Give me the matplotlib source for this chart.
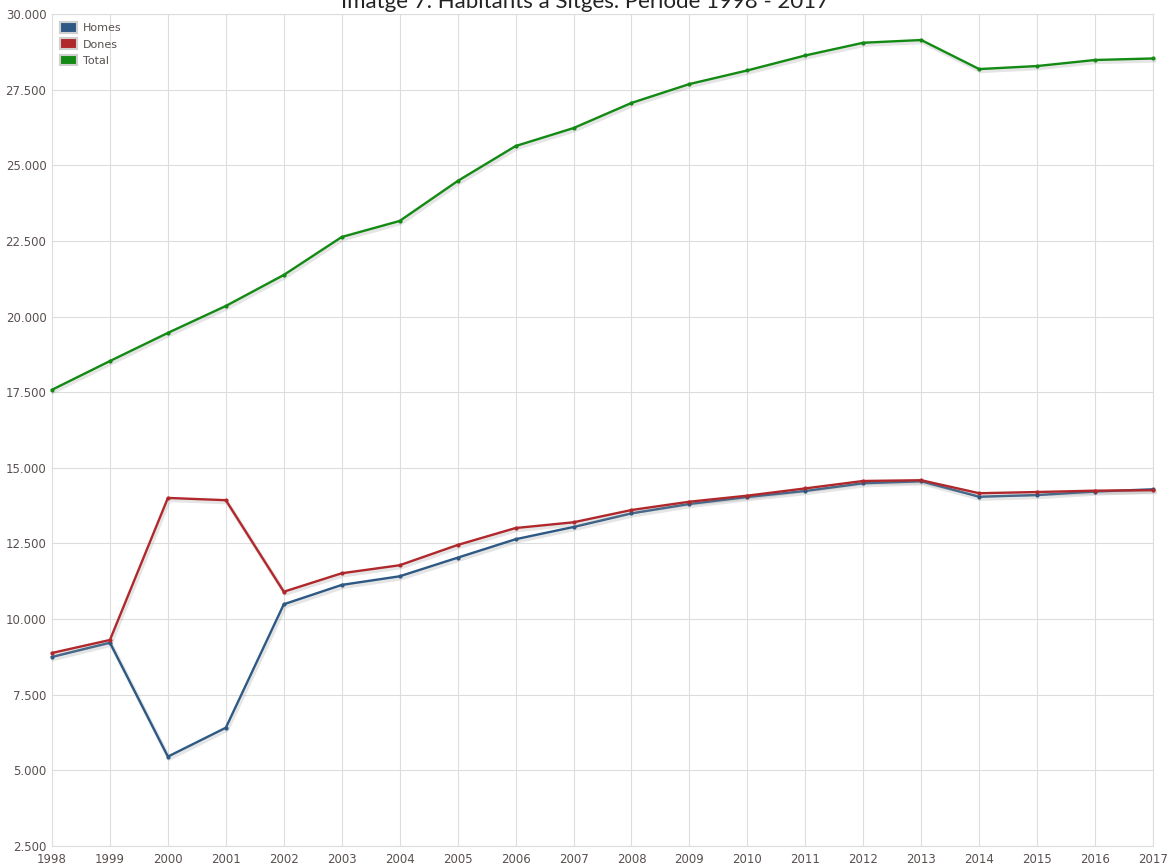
import matplotlib
matplotlib.use("Agg")
import matplotlib.pyplot as plt
import matplotlib.patheffects as pe
from matplotlib.patches import Patch
from matplotlib.ticker import FuncFormatter

# Data
years = list(range(1998, 2018))
homes = [8750, 9220, 5455, 6410, 10490, 11130, 11415, 12030, 12640, 13045,
         13495, 13805, 14035, 14235, 14490, 14555, 14045, 14100, 14215, 14290]
dones = [8880, 9310, 14005, 13930, 10905, 11515, 11780, 12450, 13010, 13200,
         13605, 13880, 14080, 14320, 14565, 14590, 14160, 14200, 14245, 14260]
total = [17580, 18530, 19460, 20350, 21375, 22630, 23160, 24480, 25635, 26230,
         27060, 27685, 28135, 28630, 29050, 29140, 28180, 28280, 28480, 28530]

series = [("Homes", homes, "#2e5984"),
          ("Dones", dones, "#b0282c"),
          ("Total", total, "#138a13")]

TICK_COLOR = "#5a5050"
GRID_COLOR = "#dddddd"

fig = plt.figure(figsize=(11.7, 8.66), dpi=100)
ax = fig.add_axes([52 / 1170, 1 - 846 / 866, (1153 - 52) / 1170, (846 - 14) / 866])

shadow = [pe.SimpleLineShadow(offset=(1.0, -1.5), shadow_color="#999999", alpha=0.25, linewidth=3.0),
          pe.Normal()]

for name, vals, col in series:
    # line with soft shadow, then plain dots on top
    ax.plot(years, vals, color=col, linewidth=1.7, zorder=3, path_effects=shadow, clip_on=False)
    ax.plot(years, vals, color=col, linestyle="none", marker="o", markersize=3.0,
            markeredgewidth=0, zorder=4, clip_on=False)

ax.set_xlim(1998, 2017)
ax.set_ylim(2500, 30000)
ax.set_xticks(years)
ax.set_yticks(range(2500, 30001, 2500))
ax.yaxis.set_major_formatter(FuncFormatter(lambda v, p: f"{int(v):,}".replace(",", ".")))

ax.grid(True, color=GRID_COLOR, linewidth=0.8)
ax.set_axisbelow(True)
for side in ["top", "right", "left", "bottom"]:
    ax.spines[side].set_color(GRID_COLOR)
    ax.spines[side].set_linewidth(0.8)
ax.tick_params(axis="both", length=0, labelsize=8.5, colors=TICK_COLOR, pad=4)
ax.tick_params(axis="x", pad=5)

handles = [Patch(facecolor=col, edgecolor="#cfcfcf", linewidth=1.5, label=name)
           for name, vals, col in series]
leg = ax.legend(handles=handles, loc="upper left", frameon=False, fontsize=8,
                handlelength=1.5, handleheight=1.1, handletextpad=0.5,
                labelspacing=0.45, borderaxespad=0.35, bbox_to_anchor=(0.0, 1.0))
for t in leg.get_texts():
    t.set_color(TICK_COLOR)

fig.text(0.5, 1 - 8 / 866, "Imatge 7. Habitants a Sitges. Període 1998 - 2017",
         ha="center", va="baseline", fontsize=16, family=["Lato", "DejaVu Sans"],
         color="#222222")

fig.savefig("out.png", dpi=100)
